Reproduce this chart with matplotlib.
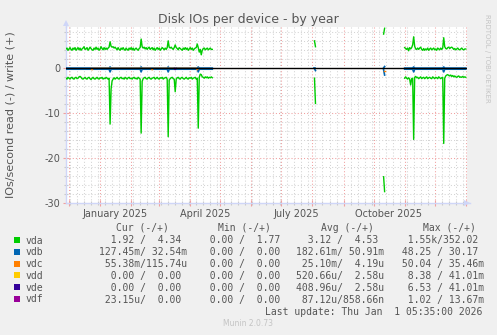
import pandas as pd
import matplotlib
matplotlib.use("Agg")
import matplotlib.pyplot as plt
import matplotlib.dates as mdates
from matplotlib.ticker import MultipleLocator, NullFormatter
from matplotlib.patches import Rectangle

plt.rcParams["axes.unicode_minus"] = False

W, H = 497, 335

# ---- data: vda, one value per day (IOs/s) ----
vda_start1 = "2024-11-28"
vda_write1 = [
    4.3, 4.5, 4.0, 4.3, 4.6, 4.2, 4.0, 4.5, 4.2, 4.6,
    4.0, 4.3, 4.6, 4.1, 4.5, 4.0, 4.3, 4.5, 4.8, 4.2,
    4.3, 4.6, 4.0, 4.3, 4.7, 4.4, 4.1, 4.0, 4.5, 4.2,
    4.7, 4.2, 4.5, 4.0, 4.3, 4.8, 4.4, 4.1, 4.6, 4.2,
    4.5, 4.2, 4.5, 4.7, 5.9, 4.9, 4.7, 4.8, 4.5, 4.7,
    4.4, 4.1, 4.6, 4.2, 4.0, 4.5, 4.2, 4.6, 4.2, 4.0,
    4.5, 4.2, 4.0, 4.5, 4.2, 4.6, 4.1, 4.5, 4.0, 4.3,
    4.5, 4.2, 4.0, 4.4, 4.6, 6.5, 4.8, 4.5, 4.7, 4.3,
    4.6, 4.2, 4.5, 4.7, 4.2, 4.4, 4.6, 4.1, 4.5, 4.0,
    4.3, 4.6, 4.2, 4.5, 4.0, 4.3, 4.6, 4.4, 4.1, 4.5,
    4.2, 4.6, 6.1, 4.7, 4.5, 4.7, 4.4, 4.2, 4.6, 5.2,
    4.6, 4.4, 4.1, 4.6, 4.4, 4.2, 4.0, 4.5, 4.2, 4.6,
    4.2, 4.5, 4.0, 4.3, 4.6, 4.2, 4.5, 4.0, 4.3, 4.5,
    4.6, 5.4, 4.6, 3.6, 4.2, 3.0, 4.0, 4.4, 4.5, 4.1,
    4.3, 4.5, 4.1, 4.3, 4.5, 4.2, 4.2,
]
vda_read1 = [
    -2.2, -2.4, -2.0, -2.2, -2.4, -2.1, -2.0, -2.3, -2.4, -2.1,
    -2.0, -2.3, -2.2, -1.9, -1.8, -2.0, -2.3, -2.4, -2.2, -2.0,
    -2.3, -2.4, -2.1, -2.0, -2.3, -2.5, -2.2, -2.0, -2.3, -2.4,
    -2.2, -2.0, -2.3, -2.4, -2.1, -2.2, -2.0, -2.4, -2.2, -2.3,
    -2.0, -2.2, -2.4, -2.2, -12.4, -4.6, -2.8, -2.4, -2.1, -2.4,
    -2.2, -2.0, -2.3, -2.4, -2.1, -2.0, -2.3, -2.2, -2.4, -2.0,
    -2.2, -2.4, -2.1, -2.0, -2.3, -2.2, -2.4, -2.1, -2.0, -2.3,
    -2.2, -2.4, -2.0, -2.2, -2.4, -14.4, -2.9, -2.3, -2.1, -2.0,
    -2.3, -2.4, -2.1, -2.0, -2.3, -2.4, -2.2, -2.1, -2.0, -2.4,
    -2.2, -2.0, -2.3, -2.4, -2.1, -2.2, -2.0, -2.4, -2.2, -2.1,
    -2.0, -2.4, -15.2, -2.6, -2.3, -2.1, -2.0, -2.3, -2.4, -5.2,
    -2.4, -2.1, -2.0, -2.3, -2.4, -2.1, -2.0, -2.3, -2.4, -2.2,
    -2.0, -2.3, -2.4, -2.1, -2.2, -2.0, -2.4, -2.2, -2.1, -2.0,
    -2.4, -2.2, -13.3, -2.0, -1.3, -1.4, -1.9, -2.0, -2.2, -1.9,
    -2.1, -1.9, -2.2, -2.0, -2.1, -1.9, -2.1,
]
vda_start2 = "2025-08-03"
vda_write2 = [6.1, 4.8]
vda_read2 = [-2.2, -7.8]
vda_start3 = "2025-10-11"
vda_write3 = [7.6, 8.9]
vda_read3 = [-24.1, -27.4]
vda_start4 = "2025-11-01"
vda_write4 = [
    4.6, 4.4, 4.2, 4.5, 3.9, 4.6, 4.3, 4.6, 5.2, 7.0,
    4.9, 4.3, 4.2, 4.5, 4.2, 4.5, 4.7, 4.2, 4.0, 4.4,
    4.0, 4.3, 4.1, 4.5, 4.0, 4.3, 4.5, 4.1, 4.3, 4.5,
    4.1, 4.3, 4.0, 4.5, 4.3, 4.1, 4.5, 4.2, 4.5, 6.8,
    4.8, 4.4, 4.3, 4.6, 4.7, 4.4, 4.6, 4.7, 4.5, 4.2,
    4.4, 4.1, 4.3, 4.5, 4.2, 4.1, 4.3, 4.5, 4.2, 4.1,
    4.3, 4.3,
]
vda_read4 = [
    -2.2, -1.9, -2.2, -2.4, -2.1, -2.4, -3.7, -2.3, -2.2, -15.8,
    -2.0, -1.8, -2.1, -2.0, -2.3, -2.1, -1.9, -2.3, -2.1, -2.0,
    -2.3, -2.1, -1.9, -2.3, -2.1, -2.0, -2.2, -2.3, -1.9, -2.1,
    -2.3, -2.0, -2.1, -2.3, -1.9, -2.1, -2.3, -2.1, -2.0, -16.7,
    -2.2, -1.7, -1.5, -1.4, -1.6, -1.7, -1.5, -1.8, -1.6, -1.9,
    -1.7, -1.9, -2.0, -1.8, -1.7, -2.0, -1.9, -2.0, -1.8, -2.0,
    -1.9, -2.0,
]

# ---- data: vdb / vdc / vde, sparse points per stretch ----
vdb_segments = [
    (["2024-11-28", "2025-01-10", "2025-01-11", "2025-01-12", "2025-02-10",
      "2025-02-11", "2025-02-12", "2025-03-09", "2025-03-10", "2025-03-11",
      "2025-04-08", "2025-04-09", "2025-04-10", "2025-04-23"],
     [0.05, 0.05, 0.3, 0.05, 0.05, 0.3, 0.05, 0.05, 0.3, 0.05, 0.05, 0.3, 0.05, 0.05],
     [-0.2, -0.2, -0.8, -0.2, -0.2, -0.8, -0.2, -0.2, -0.8, -0.2, -0.2, -0.8, -0.2, -0.2]),
    (["2025-08-03", "2025-08-04"], [0.05, 0.05], [-0.1, -0.5]),
    (["2025-10-11", "2025-10-12"], [0.1, 0.4], [-0.3, -1.5]),
    (["2025-11-01", "2025-11-09", "2025-11-10", "2025-11-11", "2025-12-09",
      "2025-12-10", "2025-12-11", "2026-01-01"],
     [0.05, 0.05, 0.3, 0.05, 0.05, 0.3, 0.05, 0.05],
     [-0.2, -0.2, -0.8, -0.2, -0.2, -0.8, -0.2, -0.2]),
]
vdc_dates = ["2024-12-23", "2024-12-24", "2024-12-25", "2025-02-21", "2025-02-22",
             "2025-02-23", "2025-04-07", "2025-04-08", "2025-04-09"]
vdc_read = [0.0, -0.35, 0.0, 0.0, -0.35, 0.0, 0.0, -0.35, 0.0]
vdc_oct_dates = ["2025-10-11", "2025-10-12"]
vdc_oct_read = [-0.5, -0.5]
vde_dates = ["2025-03-16", "2025-03-17", "2025-03-18"]
vde_read = [0.0, -0.3, 0.0]

devices = ["vda", "vdb", "vdc", "vdd", "vde", "vdf"]
colors = ["#00CC00", "#0066B3", "#FF8000", "#FFCC00", "#330099", "#990099"]
cur_col = ["  1.92 /  4.34 ", "127.45m/ 32.54m", " 55.38m/115.74u",
           "  0.00 /  0.00 ", "  0.00 /  0.00 ", " 23.15u/  0.00 "]
min_col = ["  0.00 /  1.77 ", "  0.00 /  0.00 ", "  0.00 /  0.00 ",
           "  0.00 /  0.00 ", "  0.00 /  0.00 ", "  0.00 /  0.00 "]
avg_col = ["  3.12 /  4.53 ", "182.61m/ 50.91m", " 25.10m/  4.19u",
           "520.66u/  2.58u", "408.96u/  2.58u", " 87.12u/858.66n"]
max_col = ["  1.55k/352.02 ", " 48.25 / 30.17 ", " 50.04 / 35.46m",
           "  8.38 / 41.01m", "  6.53 / 41.01m", "  1.02 / 13.67m"]

FONT = "#555555"
AXIS = "#CFD6F8"

fig = plt.figure(figsize=(W / 100, H / 100), dpi=100, facecolor="#F0F0F0")
ax = fig.add_axes([66 / W, 1 - 203.3 / H, 401 / W, (203.3 - 27) / H])
ax.set_facecolor("white")


def days(start, vals):
    return pd.date_range(start, periods=len(vals), freq="D")


green = colors[0]
for st, w, r in [(vda_start1, vda_write1, vda_read1), (vda_start2, vda_write2, vda_read2),
                 (vda_start3, vda_write3, vda_read3), (vda_start4, vda_write4, vda_read4)]:
    d = days(st, w)
    ax.plot(d, w, color=green, lw=1.0, zorder=3)
    ax.plot(d, r, color=green, lw=1.0, zorder=3)

for dts, w, r in vdb_segments:
    d = pd.to_datetime(dts)
    ax.plot(d, r, color=colors[1], lw=1.2, zorder=3)
    ax.plot(d, w, color=colors[1], lw=1.2, zorder=3)

ax.plot(pd.to_datetime(vdc_dates), vdc_read, color=colors[2], lw=1.0, zorder=3)
ax.plot(pd.to_datetime(vdc_oct_dates), vdc_oct_read, color=colors[2], lw=1.0, zorder=3)
ax.plot(pd.to_datetime(vde_dates), vde_read, color=colors[4], lw=1.0, zorder=3)

ax.axhline(0, color="black", lw=1.0, zorder=4)

ax.set_xlim(pd.Timestamp("2024-11-28 00:00"), pd.Timestamp("2026-01-02 05:35"))
ax.set_ylim(-30, 9.18)

ax.xaxis.set_major_locator(mdates.MonthLocator())
ax.xaxis.set_minor_locator(mdates.WeekdayLocator(byweekday=mdates.MO))
ax.xaxis.set_major_formatter(NullFormatter())
ax.yaxis.set_major_locator(MultipleLocator(10))
ax.yaxis.set_minor_locator(MultipleLocator(2))

ax.grid(which="minor", color="#d4d4d4", ls=(0, (1, 2)), lw=0.75, zorder=1)
ax.grid(which="major", color="#f0a0a0", ls=(0, (1, 2)), lw=0.75, zorder=1)
ax.set_axisbelow(True)

ax.tick_params(which="major", direction="inout", length=4, width=0.8, color="#f0a0a0",
               labelsize=7, labelcolor=FONT, pad=2)
ax.tick_params(which="minor", direction="inout", length=3, width=0.8, color="#c8c8c8")

for s in ["top", "right"]:
    ax.spines[s].set_visible(False)
for s in ["left", "bottom"]:
    ax.spines[s].set_color(AXIS)
    ax.spines[s].set_linewidth(1.0)

# axis arrows
ax.plot([1.0], [0.0], marker=">", ms=5, color=AXIS, transform=ax.transAxes,
        clip_on=False, markeredgewidth=0, zorder=5)
ax.plot([0.0], [1.025], marker="^", ms=5, color=AXIS, transform=ax.transAxes,
        clip_on=False, markeredgewidth=0, zorder=5)
ax.plot([1.0, 1.0075], [0.0, 0.0], color=AXIS, lw=1.0, transform=ax.transAxes, clip_on=False)
ax.plot([0.0, 0.0], [1.0, 1.02], color=AXIS, lw=1.0, transform=ax.transAxes, clip_on=False)

# month labels (centred half way into the month)
for lab, dt in [("January 2025", "2025-01-16"), ("April 2025", "2025-04-16"),
                ("July 2025", "2025-07-16"), ("October 2025", "2025-10-16")]:
    ax.text(pd.Timestamp(dt), -0.03, lab, transform=ax.get_xaxis_transform(),
            ha="center", va="top", fontsize=7, color=FONT)

fig.text(248 / W, 1 - 19 / H, "Disk IOs per device - by year", ha="center", va="center",
         fontsize=9, color=FONT)
fig.text(11 / W, 1 - 115 / H, "IOs/second read (-) / write (+)", rotation=90,
         ha="center", va="center", fontsize=8, color=FONT)
fig.text(487.5 / W, 1 - 58 / H, "RRDTOOL / TOBI OETIKER", rotation=270,
         ha="center", va="center", fontsize=5, color="#c4c4c4")

# legend
mono = dict(family="DejaVu Sans Mono", fontsize=7, color=FONT, va="baseline")
hdr_y = 227.3 + 3.5
for lab, x in [("Cur (-/+)", 116), ("Min (-/+)", 218), ("Avg (-/+)", 320.7), ("Max (-/+)", 422.7)]:
    fig.text(x / W, 1 - hdr_y / H, lab, ha="left", **mono)

row_y = [240, 251.8, 263.6, 275.4, 287.2, 299.0]
for i, dev in enumerate(devices):
    yc = row_y[i]
    fig.add_artist(Rectangle((14 / W, 1 - (yc + 3) / H), 6 / W, 6 / H,
                             transform=fig.transFigure, color=colors[i], lw=0))
    fig.text(26 / W, 1 - (yc + 3.5) / H, dev, ha="left", **mono)
    for txt, x in [(cur_col[i], 99), (min_col[i], 197.5), (avg_col[i], 296.3), (max_col[i], 395.5)]:
        fig.text(x / W, 1 - (yc + 3.5) / H, txt, ha="left", **mono)

fig.text(482.7 / W, 1 - (311.3 + 3.5) / H, "Last update: Thu Jan  1 05:35:00 2026",
         ha="right", **mono)
fig.text(248 / W, 1 - 324 / H, "Munin 2.0.73", ha="center", va="center",
         fontsize=5.5, color="#c4c4c4")

fig.savefig("out.png", dpi=100, facecolor=fig.get_facecolor())
